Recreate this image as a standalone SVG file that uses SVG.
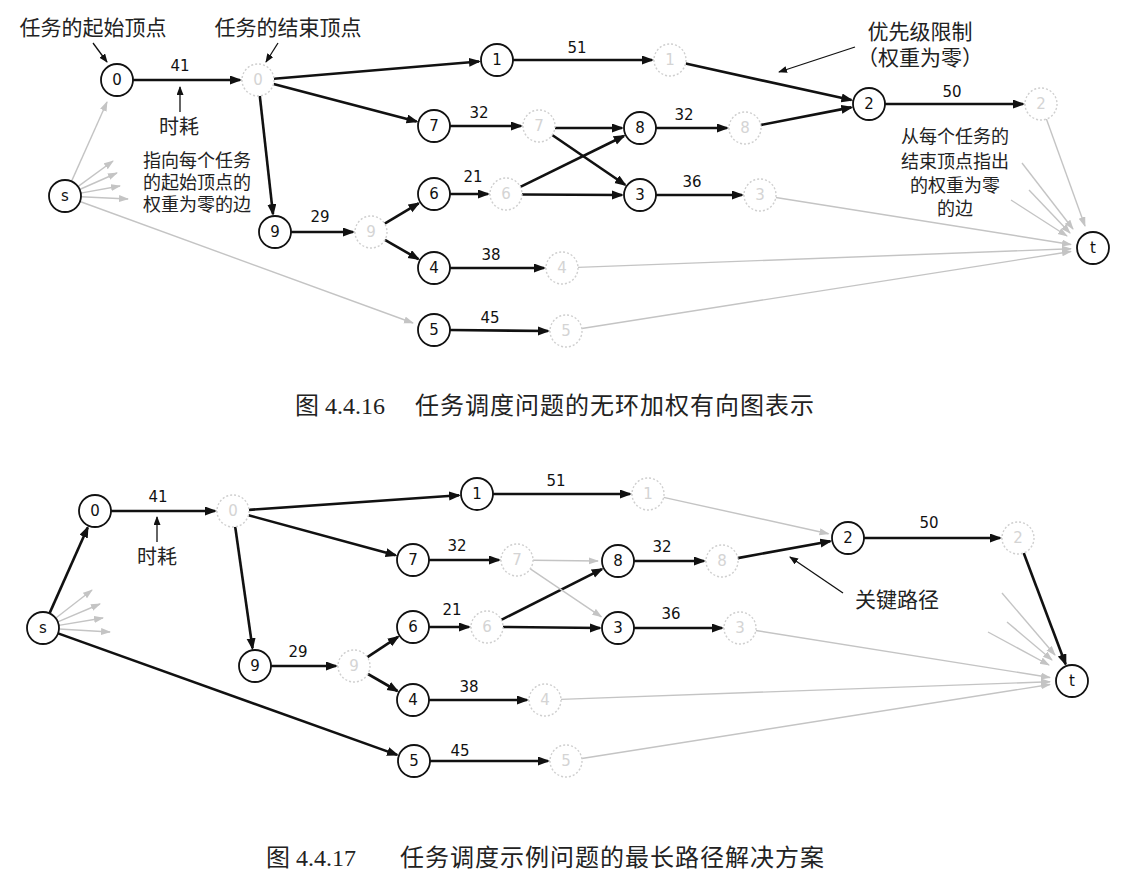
<svg xmlns="http://www.w3.org/2000/svg" width="1139" height="882" viewBox="0 0 1139 882">
<defs>
<marker id="ab" markerUnits="userSpaceOnUse" markerWidth="13" markerHeight="10" refX="10" refY="4.5" orient="auto"><path d="M0,0 L12,4.5 L0,9 z" fill="#111"/></marker>
<marker id="ag" markerUnits="userSpaceOnUse" markerWidth="12" markerHeight="9" refX="9" refY="3.5" orient="auto"><path d="M0,0 L10,3.5 L0,7 z" fill="#c4c4c4"/></marker>
<marker id="an" markerUnits="userSpaceOnUse" markerWidth="11" markerHeight="8" refX="8" refY="3.5" orient="auto"><path d="M0,0 L9,3.5 L0,7 z" fill="#111"/></marker>
</defs>
<style>
.n circle{fill:#fff;stroke:#111;stroke-width:1.8}
.n text{font-family:"DejaVu Sans",sans-serif;font-size:15px;fill:#111;text-anchor:middle}
.f circle{fill:#fff;stroke:#cfcfcf;stroke-width:1.4;stroke-dasharray:2 2}
.f text{font-family:"DejaVu Sans",sans-serif;font-size:15px;fill:#d4d4d4;text-anchor:middle}
.e{stroke:#111;stroke-width:2.6;fill:none;marker-end:url(#ab)}
.g{stroke:#c4c4c4;stroke-width:1.4;fill:none;marker-end:url(#ag)}
.a{stroke:#111;stroke-width:1.3;fill:none;marker-end:url(#an)}
.w{font-family:"DejaVu Sans",sans-serif;font-size:15px;fill:#111;text-anchor:middle}
.c{font-family:"Noto Sans CJK SC",sans-serif;font-size:20px;fill:#222;text-anchor:middle}
.m{font-family:"Noto Sans CJK SC",sans-serif;font-size:18px;fill:#222;text-anchor:middle}
.cap{font-family:"Liberation Serif","Noto Sans CJK SC",serif;font-size:24px;fill:#222}
</style>
<rect width="1139" height="882" fill="#fff"/>

<g id="connectors-top">
<line class="e" x1="133" y1="80" x2="240" y2="80"/>
<line class="e" x1="274" y1="78.7" x2="479" y2="61.5"/>
<line class="e" x1="273.5" y1="84" x2="416.6" y2="121.4"/>
<line class="e" x1="259.8" y1="95.9" x2="273" y2="214.1"/>
<line class="e" x1="513" y1="60" x2="652" y2="60"/>
<line class="e" x1="685.6" y1="63.5" x2="851.4" y2="100.1"/>
<line class="e" x1="885" y1="104" x2="1023" y2="104"/>
<line class="e" x1="450" y1="126" x2="521" y2="126"/>
<line class="e" x1="555" y1="128" x2="622" y2="128"/>
<line class="e" x1="552.2" y1="135" x2="625.1" y2="184.8"/>
<line class="e" x1="450" y1="194" x2="488" y2="194"/>
<line class="e" x1="520.4" y1="186.9" x2="623.9" y2="136"/>
<line class="e" x1="522" y1="194.5" x2="622" y2="195"/>
<line class="e" x1="656" y1="128" x2="727" y2="128"/>
<line class="e" x1="760.7" y1="125" x2="851.3" y2="107.4"/>
<line class="e" x1="656" y1="195" x2="742" y2="195"/>
<line class="e" x1="291" y1="232" x2="353" y2="232"/>
<line class="e" x1="384.7" y1="223.7" x2="418.6" y2="203.3"/>
<line class="e" x1="384.9" y1="239.9" x2="418.4" y2="259.1"/>
<line class="e" x1="450" y1="268" x2="544" y2="268"/>
<line class="e" x1="450" y1="330" x2="548" y2="331"/>
<line class="g" x1="71.5" y1="181.4" x2="107" y2="102"/>
<line class="g" x1="77.9" y1="186.6" x2="113" y2="161"/>
<line class="g" x1="79.6" y1="189.5" x2="117" y2="173"/>
<line class="g" x1="80.7" y1="193.1" x2="120" y2="186"/>
<line class="g" x1="81" y1="196.8" x2="128" y2="199"/>
<line class="g" x1="80" y1="201.5" x2="413" y2="323"/>
<line class="g" x1="775.8" y1="197.5" x2="1071" y2="244.5"/>
<line class="g" x1="578" y1="267.4" x2="1071" y2="248.8"/>
<line class="g" x1="581.8" y1="328.5" x2="1071" y2="251.5"/>
<line class="g" x1="1046.4" y1="119" x2="1085" y2="226"/>
<line class="g" x1="1022" y1="163" x2="1073" y2="229"/>
<line class="g" x1="1029" y1="190" x2="1070" y2="233"/>
<line class="g" x1="1011" y1="200" x2="1067" y2="236"/>
<line class="a" x1="93" y1="43" x2="107" y2="62"/>
<line class="a" x1="278" y1="43" x2="266" y2="62"/>
<line class="a" x1="180" y1="112" x2="180" y2="87"/>
<line class="a" x1="855" y1="47" x2="779" y2="72"/>
</g>

<g id="top-nodes">
<g id="t-s" class="n"><circle cx="65" cy="196" r="16"/><text x="65" y="201">s</text></g>
<g id="t-0" class="n"><circle cx="117" cy="80" r="16"/><text x="117" y="85">0</text></g>
<g id="t-0e" class="f"><circle cx="258" cy="80" r="16"/><text x="258" y="85">0</text></g>
<g id="t-1" class="n"><circle cx="497" cy="60" r="16"/><text x="497" y="65">1</text></g>
<g id="t-1e" class="f"><circle cx="670" cy="60" r="16"/><text x="670" y="65">1</text></g>
<g id="t-7" class="n"><circle cx="434" cy="126" r="16"/><text x="434" y="131">7</text></g>
<g id="t-7e" class="f"><circle cx="539" cy="126" r="16"/><text x="539" y="131">7</text></g>
<g id="t-8" class="n"><circle cx="640" cy="128" r="16"/><text x="640" y="133">8</text></g>
<g id="t-8e" class="f"><circle cx="745" cy="128" r="16"/><text x="745" y="133">8</text></g>
<g id="t-6" class="n"><circle cx="434" cy="194" r="16"/><text x="434" y="199">6</text></g>
<g id="t-6e" class="f"><circle cx="506" cy="194" r="16"/><text x="506" y="199">6</text></g>
<g id="t-3" class="n"><circle cx="640" cy="195" r="16"/><text x="640" y="200">3</text></g>
<g id="t-3e" class="f"><circle cx="760" cy="195" r="16"/><text x="760" y="200">3</text></g>
<g id="t-9" class="n"><circle cx="275" cy="232" r="16"/><text x="275" y="237">9</text></g>
<g id="t-9e" class="f"><circle cx="371" cy="232" r="16"/><text x="371" y="237">9</text></g>
<g id="t-4" class="n"><circle cx="434" cy="268" r="16"/><text x="434" y="273">4</text></g>
<g id="t-4e" class="f"><circle cx="562" cy="268" r="16"/><text x="562" y="273">4</text></g>
<g id="t-5" class="n"><circle cx="434" cy="330" r="16"/><text x="434" y="335">5</text></g>
<g id="t-5e" class="f"><circle cx="566" cy="331" r="16"/><text x="566" y="336">5</text></g>
<g id="t-2" class="n"><circle cx="869" cy="104" r="16"/><text x="869" y="109">2</text></g>
<g id="t-2e" class="f"><circle cx="1041" cy="104" r="16"/><text x="1041" y="109">2</text></g>
<g id="t-t" class="n"><circle cx="1093" cy="248" r="16"/><text x="1093" y="253">t</text></g>
</g>

<g id="top-labels">
<text class="w" x="180" y="71">41</text>
<text class="w" x="577" y="53">51</text>
<text class="w" x="479" y="118">32</text>
<text class="w" x="684" y="120">32</text>
<text class="w" x="473" y="182">21</text>
<text class="w" x="692" y="187">36</text>
<text class="w" x="320" y="222">29</text>
<text class="w" x="491" y="260">38</text>
<text class="w" x="490" y="323">45</text>
<text class="w" x="952" y="97">50</text>
<text class="c" x="93" y="35" style="font-size:21px">任务的起始顶点</text>
<text class="c" x="288" y="35" style="font-size:21px">任务的结束顶点</text>
<text class="c" x="179" y="134">时耗</text>
<text class="m" y="167"><tspan x="197">指向每个任务</tspan><tspan x="197" dy="22">的起始顶点的</tspan><tspan x="197" dy="22">权重为零的边</tspan></text>
<text class="c" y="39" style="font-size:21px"><tspan x="920">优先级限制</tspan><tspan x="920" dy="26">（权重为零）</tspan></text>
<text class="m" y="143"><tspan x="955">从每个任务的</tspan><tspan x="955" dy="25">结束顶点指出</tspan><tspan x="955" dy="24">的权重为零</tspan><tspan x="955" dy="23">的边</tspan></text>
</g>

<g id="connectors-bottom">
<line class="e" x1="49.5" y1="613.4" x2="87.7" y2="527.5"/>
<line class="e" x1="58.1" y1="633.4" x2="397.1" y2="754.9"/>
<line class="e" x1="111" y1="511" x2="215" y2="511"/>
<line class="e" x1="249" y1="509.9" x2="459" y2="495.3"/>
<line class="e" x1="248.4" y1="515.2" x2="395.6" y2="555.3"/>
<line class="e" x1="235.2" y1="526.8" x2="252.5" y2="648.2"/>
<line class="e" x1="493" y1="494" x2="630" y2="494"/>
<line class="e" x1="429" y1="560" x2="499" y2="560"/>
<line class="e" x1="634" y1="561" x2="704" y2="561"/>
<line class="e" x1="737.7" y1="558.1" x2="830.3" y2="541.2"/>
<line class="e" x1="429" y1="627" x2="469" y2="627"/>
<line class="e" x1="501.3" y1="619.8" x2="601.9" y2="569.1"/>
<line class="e" x1="503" y1="627" x2="600" y2="628"/>
<line class="e" x1="634" y1="628" x2="722" y2="628"/>
<line class="e" x1="271" y1="666" x2="336" y2="666"/>
<line class="e" x1="367.4" y1="657.2" x2="398" y2="636.9"/>
<line class="e" x1="367.9" y1="674" x2="397.4" y2="691"/>
<line class="e" x1="429" y1="700" x2="527" y2="700"/>
<line class="e" x1="430" y1="761" x2="548" y2="761"/>
<line class="e" x1="864" y1="538" x2="1000" y2="538"/>
<line class="e" x1="1023.7" y1="553" x2="1065.6" y2="664.2"/>
<line class="g" x1="663.6" y1="497.4" x2="828.5" y2="533.7"/>
<line class="g" x1="533" y1="560.2" x2="598" y2="561"/>
<line class="g" x1="530.3" y1="568.9" x2="601.4" y2="616.8"/>
<line class="g" x1="755.8" y1="630.5" x2="1050" y2="677.5"/>
<line class="g" x1="561" y1="699.4" x2="1050" y2="681.7"/>
<line class="g" x1="581.8" y1="758.5" x2="1050" y2="684.5"/>
<line class="g" x1="55.6" y1="618.2" x2="92" y2="590"/>
<line class="g" x1="57.8" y1="621.8" x2="100" y2="604"/>
<line class="g" x1="58.8" y1="625.4" x2="103" y2="618"/>
<line class="g" x1="59" y1="629" x2="110" y2="632"/>
<line class="g" x1="1002" y1="593" x2="1055" y2="655"/>
<line class="g" x1="1007" y1="622" x2="1052" y2="660"/>
<line class="g" x1="988" y1="632" x2="1049" y2="665"/>
<line class="a" x1="157" y1="542" x2="157" y2="517"/>
<line class="a" x1="843" y1="593" x2="790" y2="557"/>
</g>

<g id="bottom-nodes">
<g id="b-s" class="n"><circle cx="43" cy="628" r="16"/><text x="43" y="633">s</text></g>
<g id="b-0" class="n"><circle cx="95" cy="511" r="16"/><text x="95" y="516">0</text></g>
<g id="b-0e" class="f"><circle cx="233" cy="511" r="16"/><text x="233" y="516">0</text></g>
<g id="b-1" class="n"><circle cx="477" cy="494" r="16"/><text x="477" y="499">1</text></g>
<g id="b-1e" class="f"><circle cx="648" cy="494" r="16"/><text x="648" y="499">1</text></g>
<g id="b-7" class="n"><circle cx="413" cy="560" r="16"/><text x="413" y="565">7</text></g>
<g id="b-7e" class="f"><circle cx="517" cy="560" r="16"/><text x="517" y="565">7</text></g>
<g id="b-8" class="n"><circle cx="618" cy="561" r="16"/><text x="618" y="566">8</text></g>
<g id="b-8e" class="f"><circle cx="722" cy="561" r="16"/><text x="722" y="566">8</text></g>
<g id="b-6" class="n"><circle cx="413" cy="627" r="16"/><text x="413" y="632">6</text></g>
<g id="b-6e" class="f"><circle cx="487" cy="627" r="16"/><text x="487" y="632">6</text></g>
<g id="b-3" class="n"><circle cx="618" cy="628" r="16"/><text x="618" y="633">3</text></g>
<g id="b-3e" class="f"><circle cx="740" cy="628" r="16"/><text x="740" y="633">3</text></g>
<g id="b-9" class="n"><circle cx="255" cy="666" r="16"/><text x="255" y="671">9</text></g>
<g id="b-9e" class="f"><circle cx="354" cy="666" r="16"/><text x="354" y="671">9</text></g>
<g id="b-4" class="n"><circle cx="413" cy="700" r="16"/><text x="413" y="705">4</text></g>
<g id="b-4e" class="f"><circle cx="545" cy="700" r="16"/><text x="545" y="705">4</text></g>
<g id="b-5" class="n"><circle cx="414" cy="761" r="16"/><text x="414" y="766">5</text></g>
<g id="b-5e" class="f"><circle cx="566" cy="761" r="16"/><text x="566" y="766">5</text></g>
<g id="b-2" class="n"><circle cx="848" cy="538" r="16"/><text x="848" y="543">2</text></g>
<g id="b-2e" class="f"><circle cx="1018" cy="538" r="16"/><text x="1018" y="543">2</text></g>
<g id="b-t" class="n"><circle cx="1072" cy="681" r="16"/><text x="1072" y="686">t</text></g>
</g>

<g id="bottom-labels">
<text class="w" x="158" y="502">41</text>
<text class="w" x="556" y="486">51</text>
<text class="w" x="457" y="551">32</text>
<text class="w" x="662" y="552">32</text>
<text class="w" x="452" y="615">21</text>
<text class="w" x="671" y="619">36</text>
<text class="w" x="298" y="657">29</text>
<text class="w" x="469" y="692">38</text>
<text class="w" x="460" y="756">45</text>
<text class="w" x="929" y="528">50</text>
<text class="c" x="157" y="564">时耗</text>
<text class="c" x="897" y="607" style="font-size:21px">关键路径</text>
</g>

<g id="captions">
<text class="cap" x="295" y="414">图 4.4.16</text>
<text class="cap" x="415" y="414" letter-spacing="1">任务调度问题的无环加权有向图表示</text>
<text class="cap" x="266" y="866">图 4.4.17</text>
<text class="cap" x="400" y="866" letter-spacing="1">任务调度示例问题的最长路径解决方案</text>
</g>
</svg>
